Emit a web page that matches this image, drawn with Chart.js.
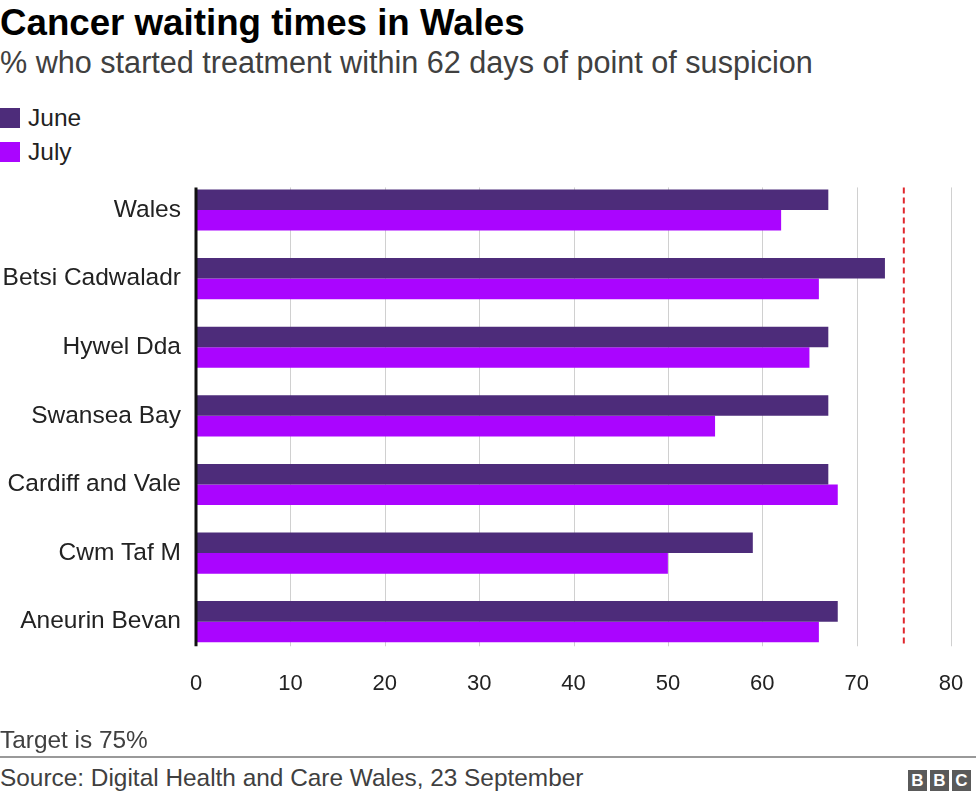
<!DOCTYPE html>
<html>
<head>
<meta charset="utf-8">
<script src="https://cdn.jsdelivr.net/npm/chart.js@4.4.1/dist/chart.umd.min.js"></script>
<style>
  body { margin: 0; width: 976px; height: 799px; background: #fff; font-family: "Liberation Sans", Arial, sans-serif; overflow: hidden; position: relative; }
  .t { position: absolute; left: 0; white-space: nowrap; color: #222; }
  #title { top: 2px; font-size: 36.7px; font-weight: bold; color: #000; }
  #sub { top: 45px; font-size: 30.6px; color: #404040; }
  .leg { position: absolute; left: 0; font-size: 24.5px; color: #222; white-space: nowrap; }
  .leg span { display: inline-block; width: 20px; height: 20px; vertical-align: -2px; margin-right: 8px; }
  #wrap { position: absolute; left: 0; top: 154px; width: 976px; height: 576px; }
  #note { top: 726px; font-size: 24.4px; color: #404040; }
  #rule { position: absolute; left: 0; top: 756px; width: 976px; height: 2px; background: #999; }
  #src { top: 764px; font-size: 24.4px; color: #404040; }
  #bbc { position: absolute; left: 905px; top: 770px; }
  #bbc b { display: inline-block; width: 19px; height: 21px; background: #5a5a5a; color: #fff; font: bold 17px "Liberation Sans", Arial, sans-serif; text-align: center; line-height: 21px; margin-left: 3px; }
</style>
</head>
<body>
<div class="t" id="title">Cancer waiting times in Wales</div>
<div class="t" id="sub">% who started treatment within 62 days of point of suspicion</div>
<div class="leg" style="top:104px"><span style="background:#4d2c7a"></span>June</div>
<div class="leg" style="top:138px"><span style="background:#aa05ff"></span>July</div>
<div id="wrap"><canvas id="c"></canvas></div>
<div class="t" id="note">Target is 75%</div>
<div id="rule"></div>
<div class="t" id="src">Source: Digital Health and Care Wales, 23 September</div>
<div id="bbc"><b>B</b><b>B</b><b>C</b></div>

<script>
// data
var boards = ['Wales', 'Betsi Cadwaladr', 'Hywel Dda', 'Swansea Bay', 'Cardiff and Vale', 'Cwm Taf M', 'Aneurin Bevan'];
var june = [67, 73, 67, 67, 67, 59, 68];
var july = [62, 66, 65, 55, 68, 50, 66];
var xTicks = [0, 10, 20, 30, 40, 50, 60, 70, 80];
var target = 75;

var juneColour = '#4d2c7a';
var julyColour = '#aa05ff';

// grid lines, zero axis and target line only run the height of the bars
var linesPlugin = {
  id: 'lines',
  beforeDatasetsDraw: function(chart) {
    var ctx = chart.ctx;
    var x = chart.scales.x;
    var first = chart.getDatasetMeta(0).data[0];
    var last = chart.getDatasetMeta(1).data[boards.length - 1];
    var top = first.y - first.height / 2 - 2;
    var bottom = last.y + last.height / 2 + 4;
    ctx.save();
    ctx.strokeStyle = '#d0d0d0';
    ctx.lineWidth = 1;
    xTicks.forEach(function(v) {
      if (v === 0) return;
      var px = Math.round(x.getPixelForValue(v)) + 0.5;
      ctx.beginPath();
      ctx.moveTo(px, top);
      ctx.lineTo(px, bottom);
      ctx.stroke();
    });
    ctx.restore();
    chart._lineTop = top;
    chart._lineBottom = bottom;
  },
  afterDatasetsDraw: function(chart) {
    var ctx = chart.ctx;
    var x = chart.scales.x;
    var top = chart._lineTop, bottom = chart._lineBottom;
    ctx.save();
    // target
    var tx = x.getPixelForValue(target);
    ctx.strokeStyle = '#e0282e';
    ctx.lineWidth = 2;
    ctx.setLineDash([6, 4]);
    ctx.beginPath();
    ctx.moveTo(tx, top);
    ctx.lineTo(tx, bottom);
    ctx.stroke();
    // zero axis
    ctx.setLineDash([]);
    ctx.strokeStyle = '#111';
    ctx.lineWidth = 3;
    var zx = x.getPixelForValue(0);
    ctx.beginPath();
    ctx.moveTo(zx, top);
    ctx.lineTo(zx, bottom);
    ctx.stroke();
    ctx.restore();
  }
};

new Chart(document.getElementById('c'), {
  type: 'bar',
  data: {
    labels: boards,
    datasets: [
      { label: 'June', data: june, backgroundColor: juneColour, borderWidth: 0 },
      { label: 'July', data: july, backgroundColor: julyColour, borderWidth: 0 }
    ]
  },
  options: {
    indexAxis: 'y',
    responsive: true,
    maintainAspectRatio: false,
    animation: false,
    layout: { padding: { top: 6, right: 25, left: 0, bottom: 0 } },
    datasets: { bar: { barPercentage: 1, categoryPercentage: 0.6 } },
    plugins: { legend: { display: false }, tooltip: { enabled: false } },
    scales: {
      x: {
        min: 0, max: 80,
        afterBuildTicks: function(s) { s.ticks = xTicks.map(function(v) { return { value: v }; }); },
        afterFit: function(s) { s.height = 74; },
        grid: { display: false },
        border: { display: false },
        ticks: { color: '#222', font: { size: 22, family: '"Liberation Sans", Arial, sans-serif' }, padding: 7, maxRotation: 0 }
      },
      y: {
        afterFit: function(s) { s.width = 196; },
        grid: { display: false },
        border: { display: false },
        ticks: { color: '#222', font: { size: 24.5, family: '"Liberation Sans", Arial, sans-serif' }, padding: 7 }
      }
    }
  },
  plugins: [linesPlugin]
});
</script>
</body>
</html>
